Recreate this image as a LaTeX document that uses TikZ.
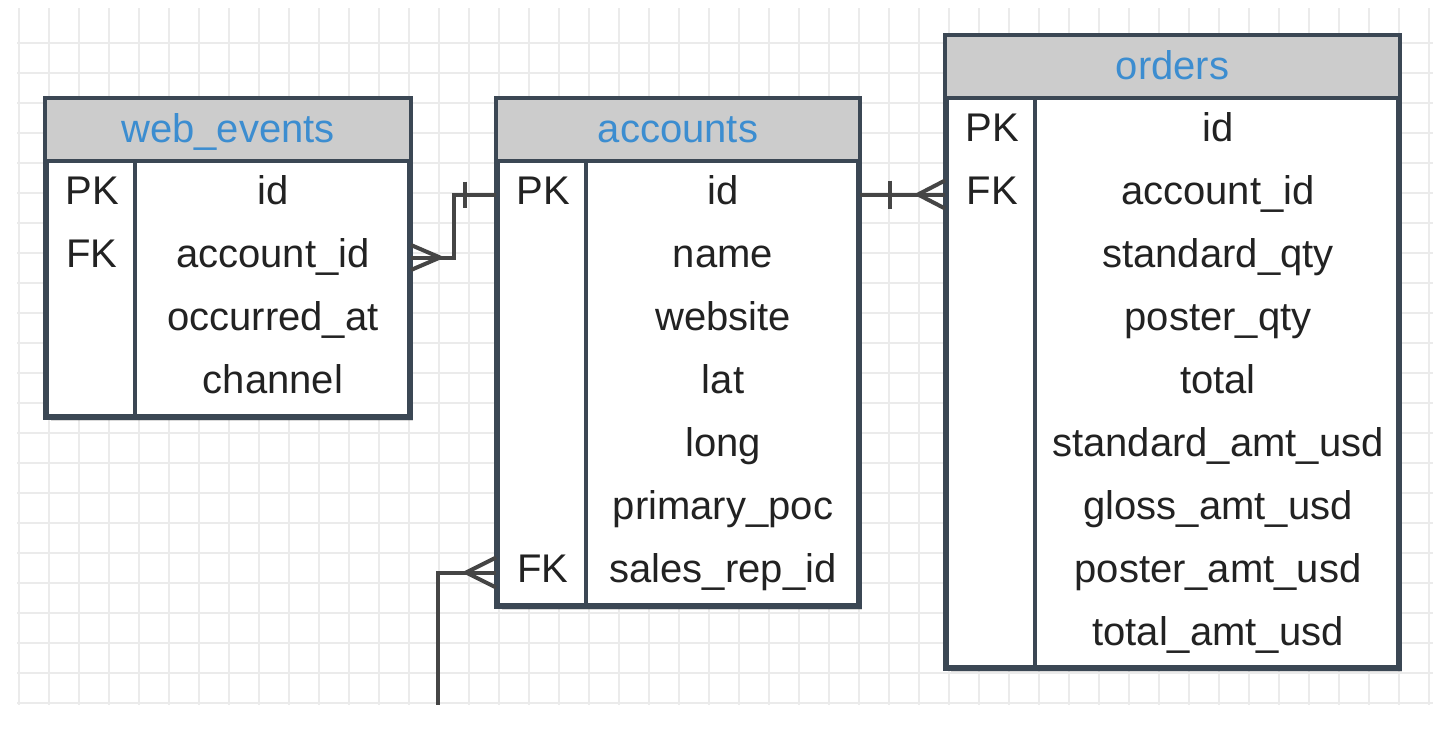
\documentclass[tikz,border=0pt]{standalone}
\usepackage{fontspec}
\setmainfont{Liberation Sans}
\usetikzlibrary{calc,shadows}
\definecolor{gridc}{HTML}{EBEBEB}
\definecolor{bordc}{HTML}{3B4754}
\definecolor{headc}{HTML}{CCCCCC}
\definecolor{titlec}{HTML}{3C8DD0}
\definecolor{txtc}{HTML}{222222}
\definecolor{connc}{HTML}{454545}
\begin{document}
\begin{tikzpicture}[x=0.5pt,y=-0.5pt,
  gridline/.style={draw=gridc, line width=1pt},
  tableframe/.style={draw=bordc, line width=2pt, fill=white, inner sep=0pt,
    drop shadow={shadow xshift=2pt, shadow yshift=-2.5pt, opacity=0.15, fill=black}},
  bord/.style={draw=bordc, line width=2pt},
  divline/.style={draw=bordc, line width=1.7pt},
  rowtxt/.style={anchor=center, text=txtc, font=\fontsize{20}{24}\selectfont,
    inner sep=0pt, text height=14pt, text depth=4pt},
  titletxt/.style={anchor=center, text=titlec, font=\fontsize{20}{24}\selectfont,
    inner sep=0pt, text height=14.5pt, text depth=4pt},
  conn/.style={draw=connc, line width=2pt}
]
\useasboundingbox (0,0) rectangle (1450,750);
\fill[white] (0,0) rectangle (1450,750);
% grid
\foreach \i in {0,...,47} \draw[gridline] ({19.3+30*\i},8) -- ({19.3+30*\i},705);
\foreach \j in {1,...,23} \draw[gridline] (17,{12.7+30*\j}) -- (1433,{12.7+30*\j});

% table frames
\node[tableframe, minimum width=181pt, minimum height=158pt] (we) at (228,258) {};
\node[tableframe, minimum width=180pt, minimum height=252.5pt] (ac) at (678,352.5) {};
\node[tableframe, minimum width=225.5pt, minimum height=315pt] (od) at (1172.5,352) {};

% headers
\foreach \t in {we,ac,od}{
  \fill[headc] (\t.north west) rectangle ($(\t.north east)+(0,63)$);
  \draw[divline] ($(\t.north west)+(90,63)$) -- ($(\t.south west)+(90,0)$);
  \draw[bord] ($(\t.north west)+(0,63)$) -- ($(\t.north east)+(0,63)$);
  \draw[bord] (\t.north west) rectangle (\t.south east);
}

% titles
\node[titletxt] (wet) at (228,131.5) {web\_events};
\node[titletxt] (act) at (678,131.5) {accounts};
\node[titletxt] (odt) at (1172.5,68.5) {orders};

% web_events rows
\foreach \t [count=\i] in {id,account\_id,occurred\_at,channel}
  \node[rowtxt] (we\i) at (273,{163+63*\i-31.5}) {\t};
\node[rowtxt] (wek1) at (92,{163+63*1-31.5}) {PK};
\node[rowtxt] (wek2) at (92,{163+63*2-31.5}) {FK};

% accounts rows
\foreach \t [count=\i] in {id,name,website,lat,long,primary\_poc,sales\_rep\_id}
  \node[rowtxt] (ac\i) at (723,{163+63*\i-31.5}) {\t};
\node[rowtxt] (ack1) at (543,{163+63*1-31.5}) {PK};
\node[rowtxt] (ack7) at (543,{163+63*7-31.5}) {FK};

% orders rows
\foreach \t [count=\i] in {id,account\_id,standard\_qty,poster\_qty,total,standard\_amt\_usd,gloss\_amt\_usd,poster\_amt\_usd,total\_amt\_usd}
  \node[rowtxt] (od\i) at (1218,{100+63*\i-31.5}) {\t};
\node[rowtxt] (odk1) at (992.5,{100+63*1-31.5}) {PK};
\node[rowtxt] (odk2) at (992.5,{100+63*2-31.5}) {FK};

% connector web_events.account_id -> accounts.id
\coordinate (m1) at ($(we.east)!0.5!(ac.west)$);
\coordinate (pw) at (we.east |- we2);
\coordinate (pa) at (ac.west |- ac1);
\draw[conn] (pw) -| (m1 |- pa) -- (pa);
\draw[conn] ($(pw)+(0,-12.5)$) -- ($(pw)+(29,0)$) -- ($(pw)+(0,12.5)$);
\draw[conn] ($(pa)+(-31,-13)$) -- ++(0,26);

% connector accounts.id -> orders.account_id
\coordinate (pb) at (ac.east |- ac1);
\coordinate (po) at (od.west |- od2);
\draw[conn] (pb) -- (po);
\draw[conn] ($(pb)+(30,-14)$) -- ++(0,28);
\draw[conn] ($(po)+(0,-14)$) -- ($(po)+(-27,0)$) -- ($(po)+(0,14)$);

% connector accounts.sales_rep_id -> (off picture)
\coordinate (ps) at (ac.west |- ac7);
\coordinate (sEnd) at (438,705);
\draw[conn] (ps) -| (sEnd);
\draw[conn] ($(ps)+(0,-15)$) -- ($(ps)+(-30,0)$) -- ($(ps)+(0,15)$);
\end{tikzpicture}
\end{document}
